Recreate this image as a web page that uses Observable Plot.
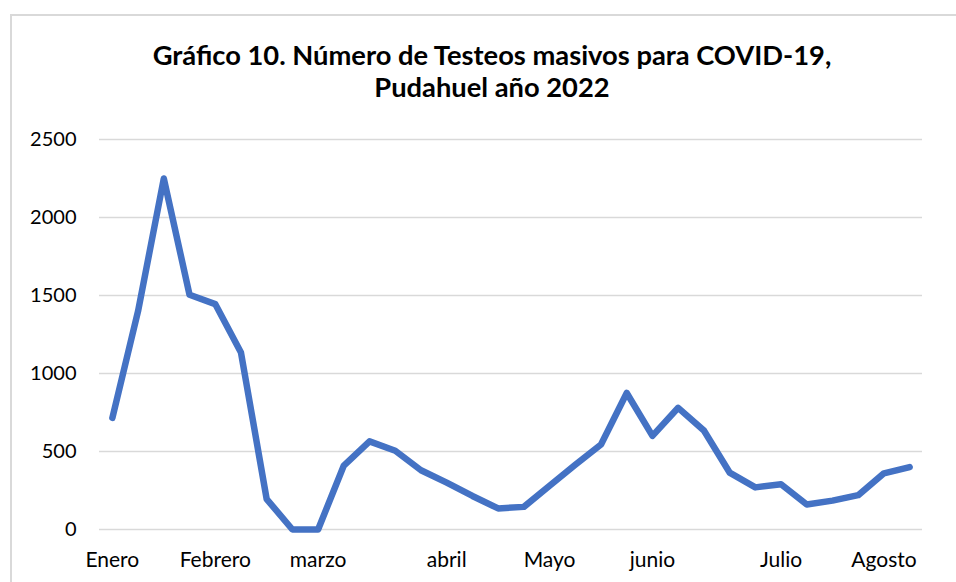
<!DOCTYPE html>
<html>
<head>
<meta charset="utf-8">
<script src="https://cdn.jsdelivr.net/npm/d3@7"></script>
<script src="https://cdn.jsdelivr.net/npm/@observablehq/plot@0.6"></script>
<style>
  html, body { margin: 0; padding: 0; background: #fff; }
  body { width: 956px; height: 582px; overflow: hidden; position: relative; font-family: Lato, "Open Sans", sans-serif; }
  #frame { position: absolute; left: 10px; top: 14px; width: 1000px; height: 1000px;
           border-left: 2px solid #d9d9d9; border-top: 2px solid #d9d9d9; pointer-events: none; }
  #title { position: absolute; left: 0; top: 39px; width: 956px; padding-left: 28px; box-sizing: border-box;
           text-align: center; font-weight: bold; font-size: 27.3px; line-height: 32px; color: #000; }
  #chart { position: absolute; left: 0; top: 120px; }
</style>
</head>
<body>
<div id="frame"></div>
<div id="title">Gráfico 10. Número de Testeos masivos para COVID-19,<br>Pudahuel año 2022</div>
<div id="chart"></div>
<script>
// Weekly number of tests
const testeos = [715, 1400, 2250, 1505, 1445, 1135, 195, 0, 0, 410, 565, 505,
                 380, 300, 215, 135, 145, 280, 415, 545, 875, 600, 780, 635,
                 365, 270, 290, 160, 185, 220, 360, 400];
// Category positions that carry a month label
const tickWeeks = [0, 4, 8, 13, 17, 21, 26, 30];
const tickLabels = ["Enero", "Febrero", "marzo", "abril", "Mayo", "junio", "Julio", "Agosto"];
const yTicks = [0, 500, 1000, 1500, 2000, 2500];

const data = testeos.map((v, i) => ({week: i, value: v}));
const labelOf = new Map(tickWeeks.map((w, i) => [w, tickLabels[i]]));

const chart = Plot.plot({
  width: 956,
  height: 462,
  marginTop: 19,
  marginBottom: 53,
  marginLeft: 99,
  marginRight: 34,
  style: {fontFamily: "Lato, 'Open Sans', sans-serif", fontSize: "20px", color: "#000", background: "transparent"},
  x: {domain: [-0.5, testeos.length - 0.5]},
  y: {domain: [0, 2500]},
  marks: [
    Plot.ruleY(yTicks, {stroke: "#d9d9d9", strokeWidth: 1.5}),
    Plot.line(data, {x: "week", y: "value", stroke: "#4472C4", strokeWidth: 6.5,
                     strokeLinejoin: "round", strokeLinecap: "round"}),
    Plot.axisY({ticks: yTicks, tickFormat: d => String(d), tickSize: 0, tickPadding: 23, label: null, fontSize: 20}),
    Plot.axisX({ticks: tickWeeks, tickFormat: d => labelOf.get(d), tickSize: 0, tickPadding: 23, label: null, fontSize: 21})
  ]
});
document.getElementById("chart").appendChild(chart);
</script>
</body>
</html>
